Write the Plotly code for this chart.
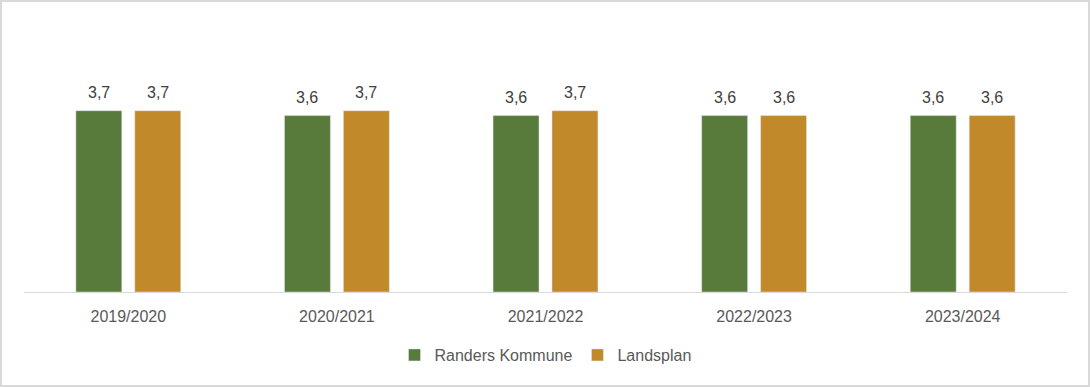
import plotly.graph_objects as go

categories = ["2019/2020", "2020/2021", "2021/2022", "2022/2023", "2023/2024"]
randers = [3.7, 3.6, 3.6, 3.6, 3.6]
landsplan = [3.7, 3.7, 3.7, 3.6, 3.6]

green = "#587A3A"
orange = "#C1892A"
font_family = "Liberation Sans, Arial, sans-serif"

fig = go.Figure()
fig.add_trace(go.Bar(name="Randers Kommune", x=categories, y=randers, marker_color=green))
fig.add_trace(go.Bar(name="Landsplan", x=categories, y=landsplan, marker_color=orange))

W, H = 1090, 387
ml, mr, mt, mb = 24, 23, 47, 95
pw, ph = W - ml - mr, H - mt - mb

annotations = []
for series, shift in ((randers, -29.5), (landsplan, 29.5)):
    for c, v in zip(categories, series):
        annotations.append(dict(x=c, y=v, xref="x", yref="y", text=f"{v:.1f}".replace(".", ","),
                                showarrow=False, xshift=shift, yshift=18, yanchor="middle",
                                font=dict(size=16, color="#404040", family=font_family)))

fig.update_layout(
    width=W, height=H,
    margin=dict(l=ml, r=mr, t=mt, b=mb, autoexpand=False),
    paper_bgcolor="white", plot_bgcolor="white",
    separators=",.",
    barmode="group", bargap=0.435, bargroupgap=0.22,
    font=dict(family=font_family, color="#595959"),
    showlegend=True,
    legend=dict(orientation="h", x=0.5, xanchor="center", y=(292 - 355) / ph, yanchor="middle",
                font=dict(size=16, color="#595959"), itemwidth=30),
    xaxis=dict(showline=True, linecolor="#d9d9d9", linewidth=1, ticks="",
               tickfont=dict(size=16, color="#595959"), showgrid=False, ticklabelstandoff=10),
    yaxis=dict(range=[0, 5], visible=False, showgrid=False, zeroline=False),
    annotations=annotations,
    shapes=[dict(type="rect", xref="paper", yref="paper",
                 x0=(1 - ml) / pw, x1=(W - 1 - ml) / pw,
                 y0=(292 - (H - 1)) / ph, y1=(292 - 1) / ph,
                 line=dict(color="#d9d9d9", width=2), fillcolor="rgba(0,0,0,0)")],
)

fig.write_html("out.html", config={"displayModeBar": False},
               post_script="document.body.style.margin='0';document.body.style.overflow='hidden';")
